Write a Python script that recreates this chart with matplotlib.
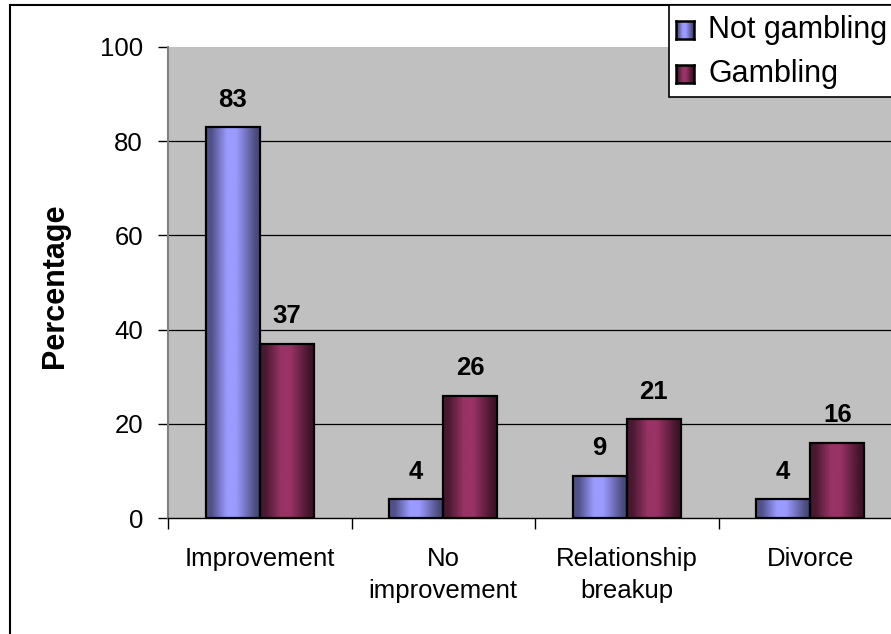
import numpy as np
import matplotlib
matplotlib.use("Agg")
import matplotlib.pyplot as plt
from matplotlib.colors import LinearSegmentedColormap
from matplotlib.patches import Rectangle
from matplotlib.lines import Line2D

plt.rcParams['font.family'] = ['Liberation Sans', 'DejaVu Sans']

categories = ["Improvement", "No\nimprovement", "Relationship\nbreakup", "Divorce"]
not_gambling = [83, 4, 9, 4]
gambling = [37, 26, 21, 16]
series_names = ["Not gambling", "Gambling"]
yticks = [0, 20, 40, 60, 80, 100]

W, H = 891, 634
fig = plt.figure(figsize=(W / 100, H / 100), dpi=100)
fig.patch.set_facecolor("white")

# plot area (extends a little past the right edge of the canvas)
left, right, top, bottom = 168, 902, 47, 518
ax = fig.add_axes([left / W, 1 - bottom / H, (right - left) / W, (bottom - top) / H])
ax.set_facecolor("#C0C0C0")


def shaded_cmap(dark_l, light, dark_r):
    return LinearSegmentedColormap.from_list(
        "shade", [(0.0, dark_l), (0.1, dark_l), (0.38, light), (0.55, light), (0.92, dark_r), (1.0, dark_r)])


cmap_blue = shaded_cmap("#50508A", "#9A9AFF", "#4A4A78")
cmap_red = shaded_cmap("#4A1830", "#993366", "#3E1428")
grad = np.linspace(0, 1, 256).reshape(1, -1)

width = 0.295
x = np.arange(len(categories))
for vals, cmap, off in [(not_gambling, cmap_blue, -width / 2), (gambling, cmap_red, width / 2)]:
    bars = ax.bar(x + off, vals, width, facecolor="none", edgecolor="black", linewidth=1.6, zorder=4)
    for b, v in zip(bars, vals):
        x0 = b.get_x()
        ax.imshow(grad, cmap=cmap, aspect="auto", extent=(x0, x0 + width, 0, v),
                  zorder=3, interpolation="bilinear")
        ax.text(x0 + width / 2, v + 3.3, f"{v}", ha="center", va="bottom",
                fontsize=18.5, fontweight="bold", zorder=5)

ax.set_xlim(-0.5, 3.5)
ax.set_ylim(0, 100)

# gridlines
for yv in yticks[1:-1]:
    ax.axhline(yv, color="black", linewidth=0.9, zorder=1)

for s in ["top", "right"]:
    ax.spines[s].set_visible(False)
ax.spines["left"].set_color("#808080")
ax.spines["left"].set_linewidth(1.5)
ax.spines["bottom"].set_color("black")
ax.spines["bottom"].set_linewidth(1.0)

ax.set_yticks(yticks)
ax.set_yticklabels([str(v) for v in yticks], fontsize=18.5)
ax.tick_params(axis="y", direction="out", length=7, width=1, pad=11, color="black")

ax.set_xticks(x)
ax.set_xticklabels(categories, fontsize=18.5, linespacing=1.42, va="top")
ax.tick_params(axis="x", which="major", length=0, pad=21)
ax.set_xticks(np.arange(-0.5, 4.0, 1.0), minor=True)
ax.tick_params(axis="x", which="minor", length=8, width=1, direction="out", color="black")

fig.text(55 / W, 1 - 286 / H, "Percentage", rotation=90, ha="center", va="center",
         fontsize=22, fontweight="bold")

# legend box
lx0, ly0, lx1, ly1 = 669, 5, 895, 97
fig.add_artist(Rectangle((lx0 / W, 1 - ly1 / H), (lx1 - lx0) / W, (ly1 - ly0) / H,
                         transform=fig.transFigure, facecolor="white", edgecolor="black",
                         linewidth=1.2, zorder=10))
for name, cmap, cy in [(series_names[0], cmap_blue, 30), (series_names[1], cmap_red, 74)]:
    sx0, sx1, sy0, sy1 = 676, 694, cy - 9, cy + 9
    iax = fig.add_axes([sx0 / W, 1 - sy1 / H, (sx1 - sx0) / W, (sy1 - sy0) / H], zorder=11)
    iax.imshow(grad, cmap=cmap, aspect="auto", interpolation="bilinear")
    iax.set_xticks([])
    iax.set_yticks([])
    for sp in iax.spines.values():
        sp.set_linewidth(1.8)
        sp.set_color("black")
    fig.text(708 / W, 1 - cy / H, name, ha="left", va="center", fontsize=22, zorder=12)

# outer chart border
fig.add_artist(Line2D([10 / W, 10 / W], [0, 1 - 5 / H], transform=fig.transFigure,
                      color="black", linewidth=1.5))
fig.add_artist(Line2D([10 / W, 1], [1 - 5 / H, 1 - 5 / H], transform=fig.transFigure,
                      color="black", linewidth=1.5))

fig.savefig("out.png", dpi=100)
